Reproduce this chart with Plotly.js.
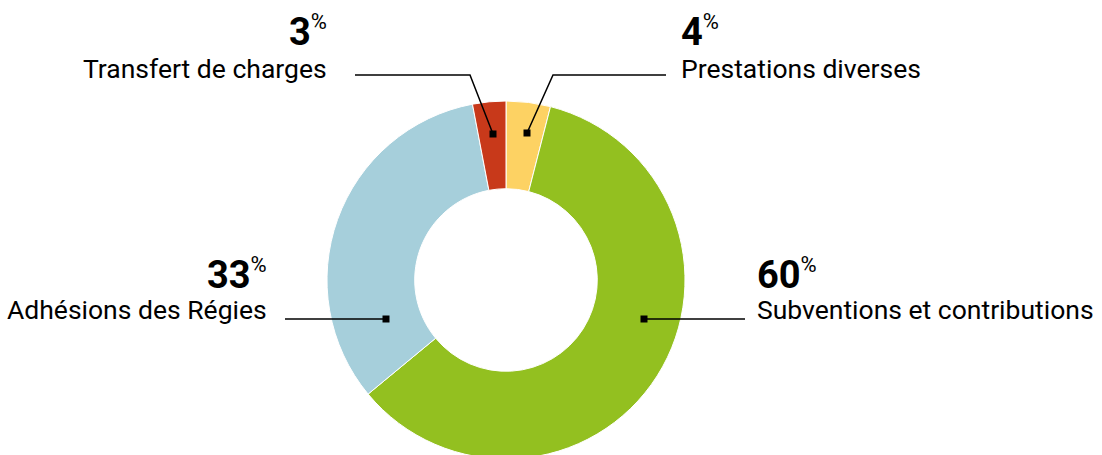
<!DOCTYPE html>
<html>
<head>
<meta charset="utf-8">
<script src="https://cdn.plot.ly/plotly-3.0.1.min.js"></script>
<style>
html,body{margin:0;padding:0;overflow:hidden;background:#fff;}
#chart{width:1102px;height:470px;}
</style>
</head>
<body>
<div id="chart"></div>
<script>
const categories = ["Prestations diverses", "Subventions et contributions", "Adhésions des Régies", "Transfert de charges"];
const values = [4, 60, 33, 3];
const colors = ["#FDD263", "#93C020", "#A6CFDB", "#C8391A"];

const W = 1102, H = 470;
const px = (x) => x / W;
const py = (y) => (H - y) / H;

const FONT = "Roboto, 'Noto Sans', sans-serif";

// label layout (pixel anchors)
const labelSpecs = [
  {i: 0, side: "left",  x: 679, yNum: 32, yLab: 68},
  {i: 1, side: "left",  x: 755, yNum: 274, yLab: 309},
  {i: 2, side: "right", x: 269, yNum: 274, yLab: 309},
  {i: 3, side: "right", x: 329, yNum: 32, yLab: 68}
];
// leader lines (pixel paths)
const leaders = [
  [[527,133],[553,75],[666,75]],
  [[644,319],[745,319]],
  [[386,319],[285,319]],
  [[493,134],[470,75],[355,75]]
];

const annotations = [];
labelSpecs.forEach(s => {
  const anchor = s.side === "left" ? "left" : "right";
  annotations.push({
    xref: "paper", yref: "paper", x: px(s.x), y: py(s.yNum),
    xanchor: anchor, yanchor: "middle", showarrow: false,
    text: "<b>" + values[s.i] + "</b><sup><span style='font-size:22px'>%</span></sup>",
    font: {family: FONT, size: 38, color: "#000"}
  });
  annotations.push({
    xref: "paper", yref: "paper", x: px(s.x), y: py(s.yLab),
    xanchor: anchor, yanchor: "middle", showarrow: false,
    text: categories[s.i],
    font: {family: FONT, size: 26.5, color: "#000"}
  });
});

const shapes = [];
leaders.forEach(pts => {
  let d = "M " + pts.map(p => px(p[0]) + "," + py(p[1])).join(" L ");
  shapes.push({type: "path", xref: "paper", yref: "paper", path: d,
    line: {color: "#000", width: 1.5}});
  const p0 = pts[0];
  shapes.push({type: "rect", xref: "paper", yref: "paper",
    x0: px(p0[0] - 3.5), x1: px(p0[0] + 3.5), y0: py(p0[1] + 3.5), y1: py(p0[1] - 3.5),
    fillcolor: "#000", line: {width: 0}});
});

const data = [{
  type: "pie",
  labels: categories,
  values: values,
  hole: 0.51,
  sort: false,
  direction: "clockwise",
  rotation: 0,
  textinfo: "none",
  hoverinfo: "label+percent",
  marker: {colors: colors, line: {color: "#fff", width: 1}},
  domain: {x: [px(327), px(685)], y: [py(459), py(101)]},
  showlegend: false
}];

const layout = {
  width: W, height: H,
  margin: {l: 0, r: 0, t: 0, b: 0},
  paper_bgcolor: "#fff",
  showlegend: false,
  annotations: annotations,
  shapes: shapes,
  font: {family: FONT}
};

Plotly.newPlot("chart", data, layout, {displayModeBar: false, staticPlot: true});
</script>
</body>
</html>
